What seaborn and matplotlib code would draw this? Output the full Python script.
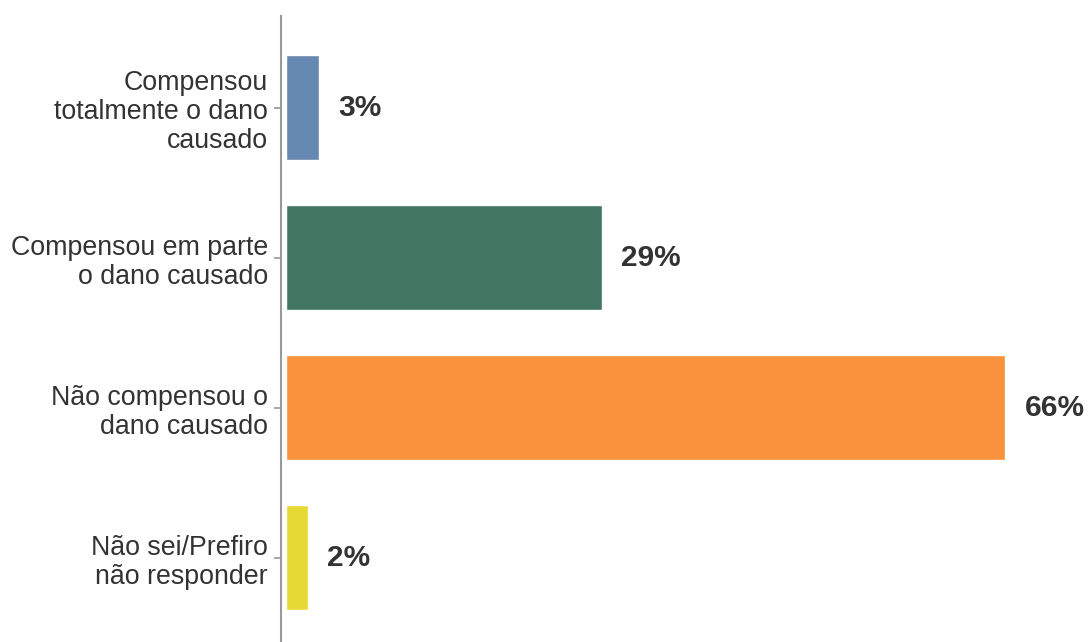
import pandas as pd
import matplotlib.pyplot as plt
import seaborn as sns

categories = [
    "Compensou\ntotalmente o dano\ncausado",
    "Compensou em parte\no dano causado",
    "Não compensou o\ndano causado",
    "Não sei/Prefiro\nnão responder",
]
values = [3, 29, 66, 2]
colors = ["#6689B1", "#437563", "#FA913C", "#E6D935"]

df = pd.DataFrame({"Resposta": categories, "Percentual": values})

sns.set_style("white")
plt.rcParams["font.family"] = ["Liberation Sans", "DejaVu Sans"]

fig = plt.figure(figsize=(10.88, 6.42), dpi=100)
ax = fig.add_axes([281 / 1088, 0.0, 1 - 281 / 1088, 1 - 16 / 642])

sns.barplot(data=df, x="Percentual", y="Resposta", hue="Resposta",
            palette=colors, width=0.7, legend=False, ax=ax, saturation=1)

ax.set_xlim(-0.45, 73.6)
ax.set_ylim(3.56, -0.613)
ax.set_xlabel("")
ax.set_ylabel("")
ax.set_xticks([])

for s in ["top", "right", "bottom"]:
    ax.spines[s].set_visible(False)
ax.spines["left"].set_color("#999999")
ax.spines["left"].set_linewidth(1.5)

ax.tick_params(axis="y", left=True, length=5, width=1.2, color="#999999",
               pad=4.5, labelsize=19.3, labelcolor="#333333")
for lbl in ax.get_yticklabels():
    lbl.set_horizontalalignment("right")
    lbl.set_multialignment("right")
    lbl.set_linespacing(1.15)

for i, v in enumerate(values):
    ax.annotate(f"{v}%", xy=(v, i), xytext=(14, 0), textcoords="offset points",
                va="center", ha="left", fontsize=21.5, fontweight="bold",
                color="#333333")

fig.savefig("out.png", dpi=100)
